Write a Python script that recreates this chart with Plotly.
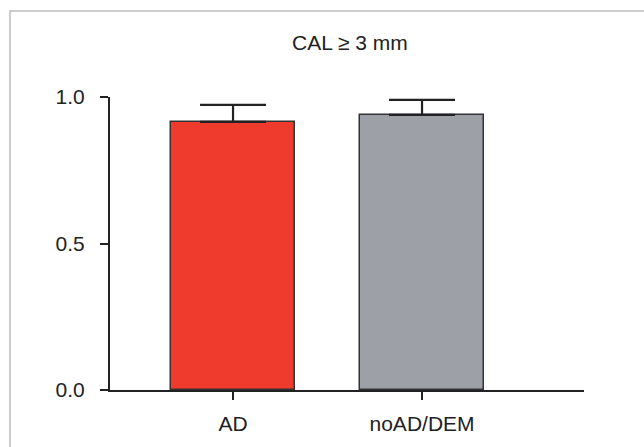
import plotly.graph_objects as go

categories = ["AD", "noAD/DEM"]
values = [0.915, 0.939]
errors = [0.058, 0.051]
colors = ["#EF3B2E", "#9EA0A7"]
y_ticks = [0.0, 0.5, 1.0]
y_tick_labels = ["0.0", "0.5", "1.0"]
title = "CAL ≥ 3 mm"

W, H = 644, 447
ml, mr, mt, mb = 110, 60, 97, 57
pw, ph = W - ml - mr, H - mt - mb

fig = go.Figure()
fig.add_trace(go.Bar(
    x=list(range(len(categories))),
    y=values,
    width=0.66,
    marker=dict(color=colors, line=dict(color="#333333", width=1.5)),
    error_y=dict(type="data", array=errors, arrayminus=[0] * len(errors),
                 symmetric=False, color="#222222", thickness=2.2, width=33),
    showlegend=False,
    hoverinfo="skip",
))

font = "Liberation Sans, Arial, sans-serif"

fig.update_layout(
    width=W, height=H,
    margin=dict(l=ml, r=mr, t=mt, b=mb),
    paper_bgcolor="white", plot_bgcolor="white",
    font=dict(family=font, size=21, color="#222222"),
    bargap=0,
    xaxis=dict(
        range=[-0.651, 1.857],
        tickmode="array",
        tickvals=list(range(len(categories))),
        ticktext=categories,
        showline=True, linecolor="#222222", linewidth=2.2,
        ticks="outside", ticklen=8, tickwidth=2, tickcolor="#222222",
        showgrid=False, zeroline=False,
        tickfont=dict(size=21),
        ticklabelstandoff=6,
    ),
    yaxis=dict(
        range=[0, 1.0],
        tickmode="array",
        tickvals=y_ticks,
        ticktext=y_tick_labels,
        showline=True, linecolor="#222222", linewidth=2.2,
        ticks="outside", ticklen=8, tickwidth=2, tickcolor="#222222",
        showgrid=False, zeroline=False,
        tickfont=dict(size=21),
        ticklabelstandoff=11,
    ),
)

fig.add_annotation(
    text=title, xref="paper", yref="paper",
    x=(350 - ml) / pw, y=1 + (97 - 43) / ph,
    showarrow=False, xanchor="center", yanchor="middle",
    font=dict(family=font, size=21, color="#222222"),
)

# outer frame (open at right/bottom as in the reference crop)
fig.add_shape(
    type="rect", xref="paper", yref="paper",
    x0=(10 - ml) / pw, x1=(700 - ml) / pw,
    y0=-(470 - (mt + ph)) / ph, y1=1 + (mt - 11) / ph,
    line=dict(color="#BDBDBD", width=1.5), layer="below",
)

fig.write_html("out.html", config={"displayModeBar": False},
               post_script="document.body.style.margin='0';")
